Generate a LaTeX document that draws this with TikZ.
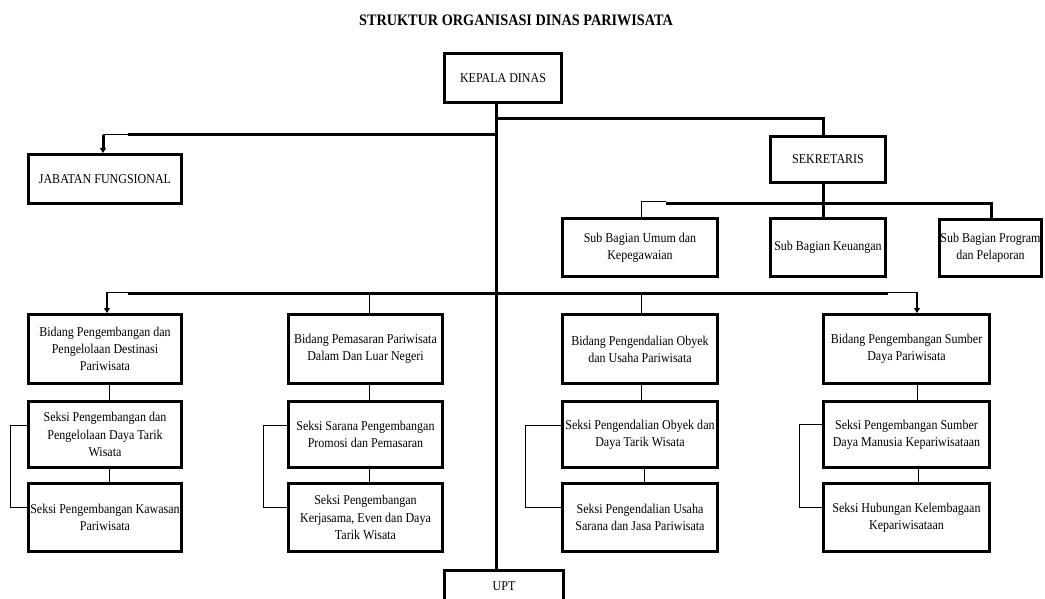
\documentclass[tikz,border=0pt]{standalone}
\usepackage{fontspec}
\setmainfont{Liberation Serif}[FakeStretch=0.89]
\usetikzlibrary{arrows.meta,calc}
\tikzset{
  box/.style={draw=black,line width=2.8pt,inner sep=0pt,align=center,
    font=\fontsize{13.5}{17.2}\selectfont},
  thickln/.style={line width=3pt},
  thinln/.style={line width=1pt},
  midln/.style={line width=2pt},
  tip/.style={-{Triangle[length=5pt,width=6pt]}},
}
\newcommand\mybox[7][]{%
  \pgfmathsetmacro\bw{#4-#2-2.8}%
  \pgfmathsetmacro\bh{#5-#3-2.8}%
  \pgfmathsetmacro\cx{(#2+#4)/2}%
  \pgfmathsetmacro\cy{(#3+#5)/2}%
  \node[box,#1,minimum width=\bw pt,minimum height=\bh pt] (#6) at (\cx,\cy) {#7};}
\begin{document}
\begin{tikzpicture}[x=1pt,y=-1pt]
\useasboundingbox (0,0) rectangle (1045,599);
\node[font=\bfseries\fontsize{16}{18}\selectfont] (title) at (516,20) {STRUKTUR ORGANISASI DINAS PARIWISATA};

\mybox{443}{52}{563}{104}{kd}{KEPALA DINAS}
\mybox{27}{153}{183}{205}{jab}{JABATAN FUNGSIONAL}
\mybox{769}{135}{887}{184}{sek}{SEKRETARIS}
\mybox{561}{217}{719}{278}{umum}{Sub Bagian Umum dan\\Kepegawaian}
\mybox{769}{217}{887}{278}{keu}{Sub Bagian Keuangan}
\mybox{938}{218}{1043}{278}{prog}{Sub Bagian Program\\dan Pelaporan}

\mybox{27}{313}{183}{385}{b1}{Bidang Pengembangan dan\\Pengelolaan Destinasi\\Pariwisata}
\mybox{27}{400}{183}{469}{s11}{Seksi Pengembangan dan\\Pengelolaan Daya Tarik\\Wisata}
\mybox{27}{482}{183}{553}{s12}{Seksi Pengembangan Kawasan\\Pariwisata}

\mybox{287}{313}{444}{385}{b2}{Bidang Pemasaran Pariwisata\\Dalam Dan Luar Negeri}
\mybox{287}{400}{444}{469}{s21}{Seksi Sarana Pengembangan\\Promosi dan Pemasaran}
\mybox{287}{482}{444}{553}{s22}{Seksi Pengembangan\\Kerjasama, Even dan Daya\\Tarik Wisata}

\mybox{561}{313}{719}{385}{b3}{Bidang Pengendalian Obyek\\dan Usaha Pariwisata}
\mybox{561}{400}{719}{469}{s31}{Seksi Pengendalian Obyek dan\\Daya Tarik Wisata}
\mybox{561}{482}{719}{553}{s32}{Seksi Pengendalian Usaha\\Sarana dan Jasa Pariwisata}

\mybox{822}{313}{991}{385}{b4}{Bidang Pengembangan Sumber\\Daya Pariwisata}
\mybox{822}{400}{991}{469}{s41}{Seksi Pengembangan Sumber\\Daya Manusia Kepariwisataan}
\mybox{822}{482}{991}{553}{s42}{Seksi Hubungan Kelembagaan\\Kepariwisataan}

\mybox{443}{569}{565}{603}{upt}{UPT}

% named coordinates for junctions
\coordinate (xm) at (496,0);
\coordinate (jsek) at (496,119);
\coordinate (xsek) at (823,0);
\coordinate (jjab) at (496,135);
\coordinate (jjab2) at (128,135);
\coordinate (jjab3) at (103,135);
\coordinate (jsub) at (823,204);
\coordinate (jsubL) at (666,204);
\coordinate (jsubL2) at (666,202);
\coordinate (jsubLx) at (641,202);
\coordinate (jsubR) at (991,204);
\coordinate (jm) at (496,293);
\coordinate (jmL) at (128,293);
\coordinate (jmL2) at (107,292);
\coordinate (jmL3) at (128,292);
\coordinate (jmR) at (888,293);
\coordinate (jmR2) at (917,292);
\coordinate (jmR3) at (888,292);
\coordinate (j2) at (369,293);
\coordinate (j3) at (641,293);

% main spine
\draw[thickln] (kd.south -| xm) -- (upt.north -| xm);
% to sekretaris
\draw[thickln] (jsek) -| (sek.north -| xsek);
% to jabatan fungsional
\draw[thickln] (jjab) -- (jjab2);
\draw[thinln] (jjab2) -- (jjab3);
\draw[thickln,tip] (jjab3) -- (jab.north -| jjab3);
% sekretaris to sub bagian
\draw[thickln] (sek.south -| xsek) -- (keu.north -| xsek);
\draw[thickln] (jsubL) -- (jsubR) -- (prog.north -| jsubR);
\draw[thinln] (jsubL2) -- (jsubLx) -- (umum.north -| jsubLx);
% main horizontal bar to bidang
\draw[thickln] (jmL) -- (jmR);
\draw[thinln] (jmL3) -- (jmL2);
\draw[midln,tip] (jmL2) -- (b1.north -| jmL2);
\draw[thinln] (jmR3) -- (jmR2);
\draw[midln,tip] (jmR2) -- (b4.north -| jmR2);
\draw[thinln] (j2) -- (b2.north -| j2);
\draw[thinln] (j3) -- (b3.north -| j3);

% column connectors
\draw[thinln] (b1.south -| 109,0) -- (s11.north -| 109,0);
\draw[thinln] (s11.south -| 109,0) -- (s12.north -| 109,0);
\draw[thinln] (b2.south -| 369,0) -- (s21.north -| 369,0);
\draw[thinln] (s21.south -| 369,0) -- (s22.north -| 369,0);
\draw[thinln] (b3.south -| 641,0) -- (s31.north -| 641,0);
\draw[thinln] (s31.south -| 644,0) -- (s32.north -| 644,0);
\draw[thinln] (b4.south -| 917,0) -- (s41.north -| 917,0);
\draw[thinln] (s41.south -| 918,0) -- (s42.north -| 918,0);

% side brackets
\draw[thinln] ([yshift=9.5pt]s11.west) -- ++(-17,0) |- ([yshift=10.5pt]s12.west);
\draw[thinln] ([yshift=9.5pt]s21.west) -- ++(-24,0) |- ([yshift=10.5pt]s22.west);
\draw[thinln] ([yshift=9.5pt]s31.west) -- ++(-36,0) |- ([yshift=10.5pt]s32.west);
\draw[thinln] ([yshift=10.5pt]s41.west) -- ++(-23,0) |- ([yshift=10.5pt]s42.west);
\end{tikzpicture}
\end{document}
